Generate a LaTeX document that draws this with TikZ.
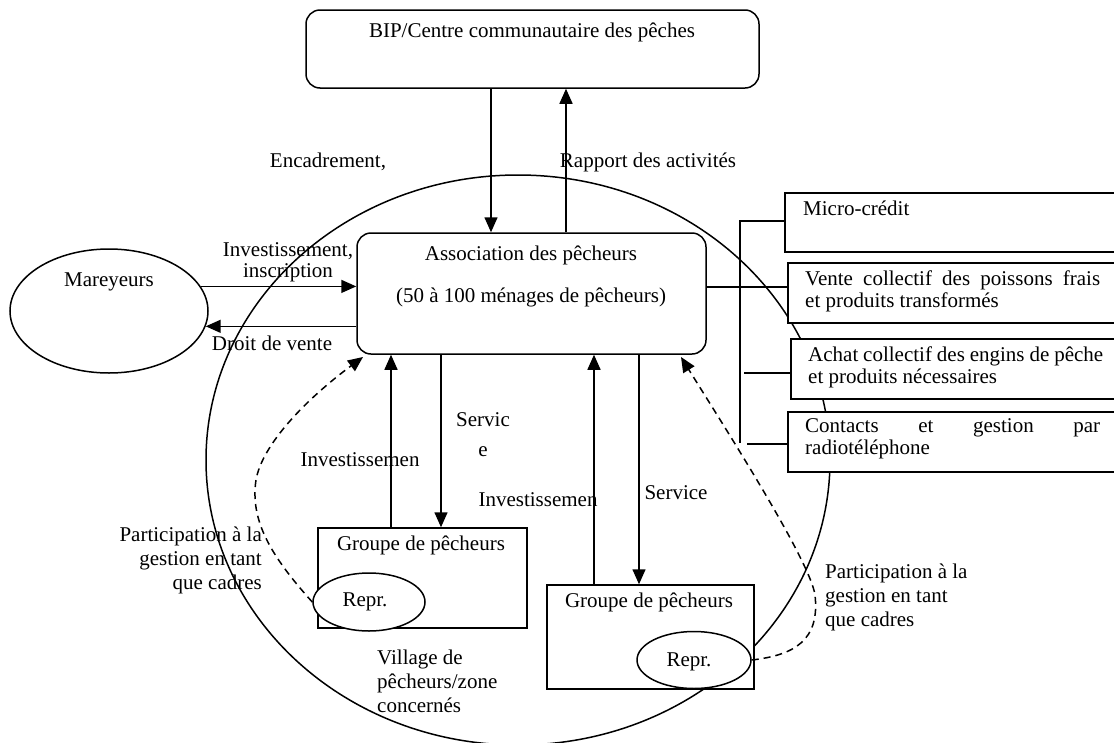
\documentclass[tikz,border=0pt]{standalone}
\usepackage{fontspec}
\setmainfont{Liberation Serif}
\usetikzlibrary{arrows.meta,shapes.geometric}

\begin{document}
\begin{tikzpicture}[x=1pt,y=-1pt,
  every node/.style={font=\fontsize{21}{24}\selectfont, inner sep=0pt},
  line/.style={line width=1.5pt},
  arr/.style={line width=1.5pt, -{Triangle[length=15pt,width=13pt]}},
  dasharr/.style={line width=1.5pt, dash pattern=on 7pt off 5pt, -{Triangle[length=15pt,width=13pt]}},
  rbox/.style={draw, line width=1.5pt, rounded corners=14pt, fill=white},
  sbox/.style={draw, line width=1.5pt, fill=white},
  oval/.style={draw, ellipse, line width=1.5pt, fill=white},
  boxtext/.style={anchor=west, align=left, font=\fontsize{21}{22}\selectfont},
]
\useasboundingbox (0,0) rectangle (1114,742);
\clip (0,0) rectangle (1114,742);

% village / zone boundary
\node[draw, ellipse, line width=1.5pt, minimum width=624pt, minimum height=570pt] (village) at (518,460) {};

% main boxes
\node[rbox, minimum width=453pt, minimum height=78pt] (bip) at (532.5,49) {};
\node[rbox, minimum width=349pt, minimum height=121pt] (assoc) at (531.5,293.5) {};
\node[oval, minimum width=198pt, minimum height=124pt] (mar) at (109,311) {};

% activity boxes on the right
\node[sbox, minimum width=345pt, minimum height=59pt] (mc) at (957.5,222.5) {};
\node[sbox, minimum width=342pt, minimum height=60pt] (vt) at (959,293) {};
\node[sbox, minimum width=339pt, minimum height=60pt] (ac) at (960.5,369) {};
\node[sbox, minimum width=342pt, minimum height=60pt] (ct) at (959,442) {};

% fishermen groups and their representatives
\node[sbox, minimum width=209pt, minimum height=100pt] (g1) at (422.5,578) {};
\node[oval, minimum width=112pt, minimum height=58pt] (r1) at (369,602) {};
\node[sbox, minimum width=207pt, minimum height=104pt] (g2) at (650.5,637) {};
\node[oval, minimum width=114pt, minimum height=57pt] (r2) at (694,660) {};

% BIP <-> association
\draw[arr] (bip.south -| 491,0) -- (assoc.north -| 491,0);
\draw[arr] (assoc.north -| 566,0) -- (bip.south -| 566,0);

% mareyeurs <-> association
\draw[arr] (mar.15) -- (mar.15 -| assoc.west);
\draw[arr] (assoc.west |- mar.-9) -- (mar.-9);

% association <-> groups
\draw[arr] (g1.north -| 391,0) -- (assoc.south -| 391,0);
\draw[arr] (assoc.south -| 441,0) -- (g1.north -| 441,0);
\draw[arr] (g2.north -| 594,0) -- (assoc.south -| 594,0);
\draw[arr] (assoc.south -| 639,0) -- (g2.north -| 639,0);

% links to the activity boxes
\coordinate (busT) at (740,221);
\coordinate (busB) at (740,443);
\coordinate (acS) at (744,373);
\coordinate (ctS) at (747,444);
\draw[line] (busT -| mc.west) -- (busT) -- (busB);
\draw[line] (assoc.east |- 0,287) -- (vt.west |- 0,287);
\draw[line] (acS) -- (acS -| ac.west);
\draw[line] (ctS) -- (ctS -| ct.west);

% representatives take part in the management
\coordinate (tipL) at (363,357);
\coordinate (tipR) at (681,357);
\draw[dasharr] (r1.west) .. controls (270,555) and (250,520) .. (256,480)
  .. controls (262,445) and (305,400) .. (tipL);
\draw[dasharr] (r2.east) .. controls (795,655) and (820,640) .. (815,595)
  .. controls (810,560) and (720,420) .. (tipR);

% texts
\node at (532,32) {BIP/Centre communautaire des pêches};
\node at (531,255) {Association des pêcheurs};
\node at (531,297) {(50 à 100 ménages de pêcheurs)};
\node at (109,282) {Mareyeurs};
\node at (421,545) {Groupe de pêcheurs};
\node at (365,602) {Repr.};
\node at (649,602) {Groupe de pêcheurs};
\node at (689,662) {Repr.};

\node[anchor=west] at (803,208) {Micro-crédit};
\node[boxtext] at (805,291) {\makebox[295pt][s]{Vente collectif des poissons frais}\\et produits transformés};
\node[boxtext] at (808,367.5) {\makebox[295pt][s]{Achat collectif des engins de pêche}\\et produits nécessaires};
\node[boxtext] at (805,438.5) {\makebox[295pt][s]{Contacts et gestion par}\\radiotéléphone};

\node at (328,162) {Encadrement,};
\node at (648,162) {Rapport des activités};
\node[align=center, font=\fontsize{21}{21}\selectfont] at (288,262.5) {Investissement,\\inscription};
\node at (272,343) {Droit de vente};
\node at (360,460) {Investissemen};
\node at (483,420) {Servic};
\node at (483,452) {e};
\node at (538,500) {Investissemen};
\node at (676,493) {Service};
\node[align=right, anchor=east] at (262,560) {Participation à la\\gestion en tant\\que cadres};
\node[align=left, anchor=west] at (825,597) {Participation à la\\gestion en tant\\que cadres};
\node[align=left, anchor=west] at (377,681) {Village de\\pêcheurs/zone\\concernés};
\end{tikzpicture}
\end{document}
